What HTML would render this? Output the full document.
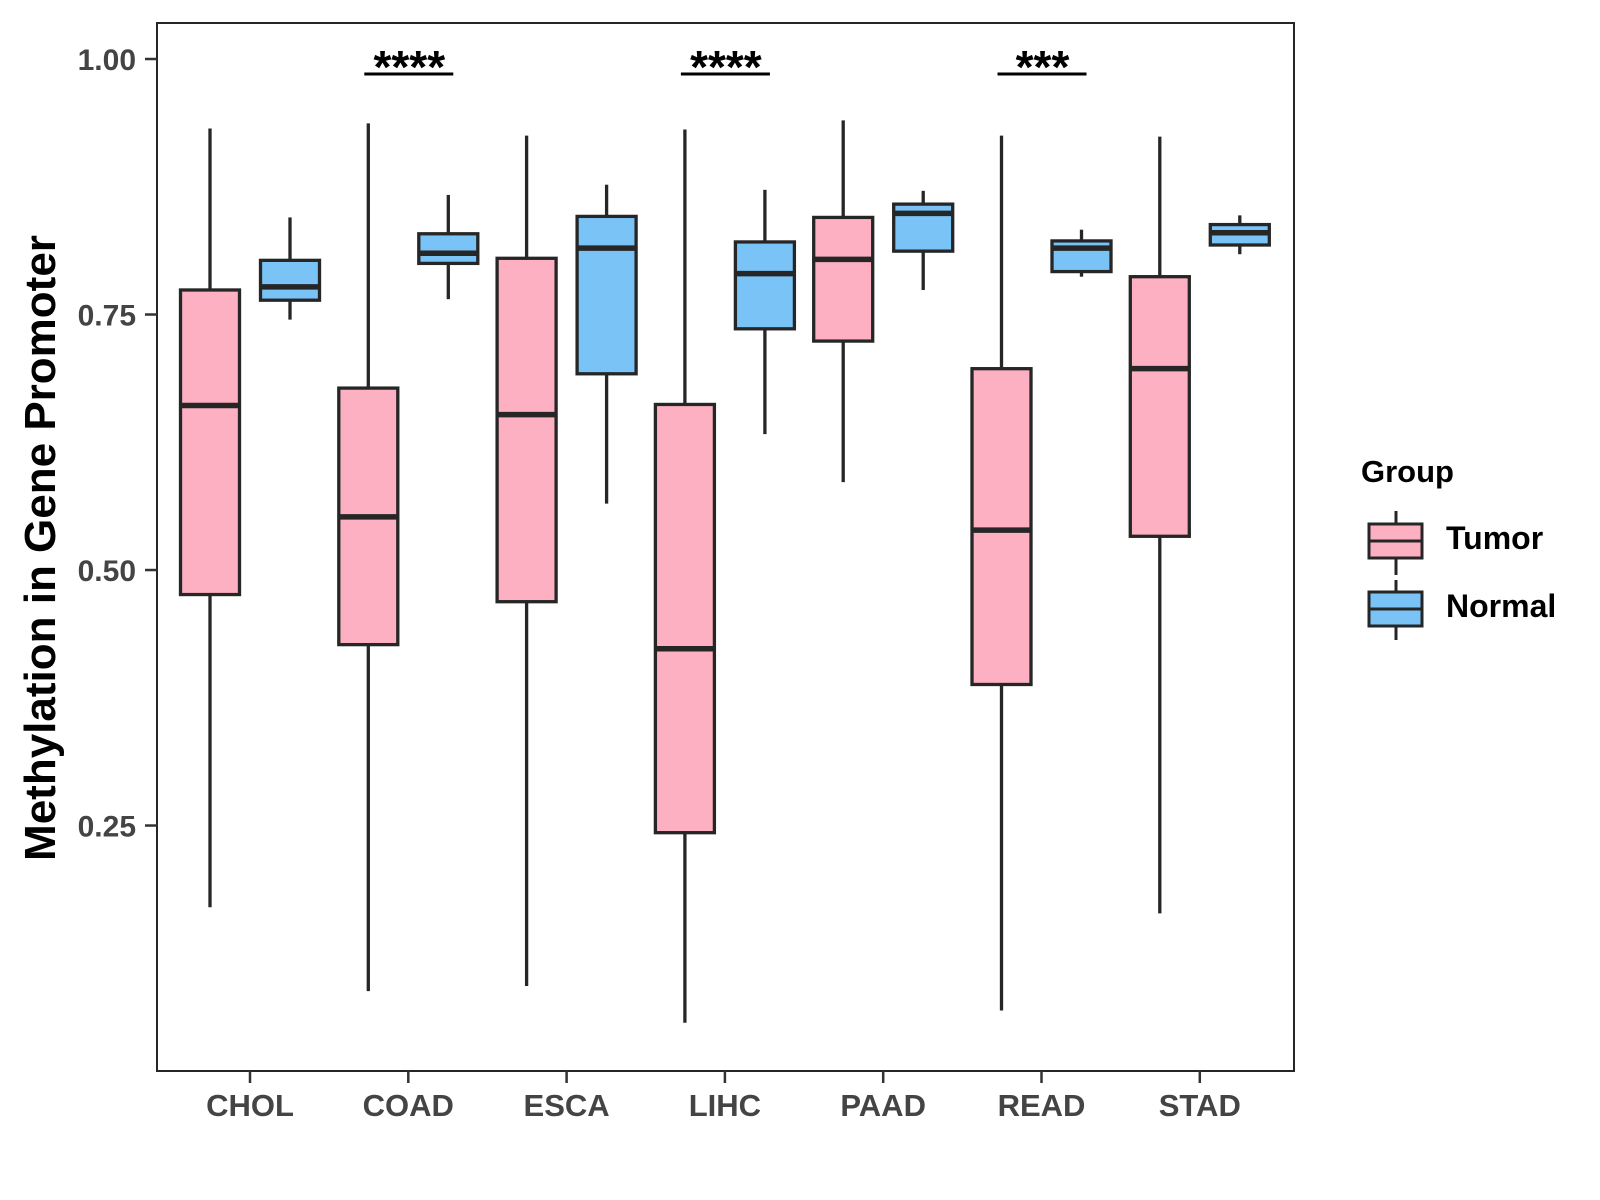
<!DOCTYPE html>
<html><head><meta charset="utf-8"><style>
html,body{margin:0;padding:0;background:#fff}
svg{display:block;font-family:"Liberation Sans",Arial,sans-serif;font-weight:bold}
</style></head><body>
<svg id="chart" width="1600" height="1200" viewBox="0 0 1600 1200"></svg>
<script>
const categories=["CHOL","COAD","ESCA","LIHC","PAAD","READ","STAD"];
const tumorLow=[0.170,0.088,0.093,0.057,0.586,0.069,0.164];
const tumorQ1=[0.476,0.427,0.469,0.243,0.724,0.388,0.533];
const tumorMed=[0.661,0.552,0.652,0.423,0.804,0.539,0.697];
const tumorQ3=[0.774,0.678,0.805,0.662,0.845,0.697,0.787];
const tumorHigh=[0.932,0.937,0.925,0.931,0.940,0.925,0.924];
const normalLow=[0.745,0.765,0.565,0.633,0.774,0.787,0.809];
const normalQ1=[0.764,0.800,0.692,0.736,0.812,0.792,0.818];
const normalMed=[0.777,0.810,0.815,0.790,0.849,0.815,0.830];
const normalQ3=[0.803,0.829,0.846,0.821,0.858,0.822,0.838];
const normalHigh=[0.845,0.867,0.877,0.872,0.871,0.833,0.847];
const yTicks=[0.25,0.50,0.75,1.00];
const yTickLabels=["0.25","0.50","0.75","1.00"];
const sigCategories=["COAD","LIHC","READ"];
const sigLabels=["****","****","***"];

const NS="http://www.w3.org/2000/svg";
const svg=document.getElementById("chart");
const L=157,R=1294,T=23,B=1071;
function yS(v){return 59+(1-v)*1002*1.02;}
function xS(i){return 250+i*158.3;}
function mk(tag,attrs,parent){const e=document.createElementNS(NS,tag);for(const k in attrs)e.setAttribute(k,attrs[k]);(parent||svg).appendChild(e);return e;}

const panel=mk("rect",{x:L,y:T,width:R-L,height:B-T,fill:"none",stroke:"#262626","stroke-width":2});



yTicks.forEach((v,i)=>{
  const g=mk("g",{});
  
  
  mk("line",{x1:L-12,x2:L,y1:yS(v),y2:yS(v),stroke:"#333","stroke-width":2.5},g);
  const t=mk("text",{x:L-21,y:yS(v)+11,"text-anchor":"end","font-size":30,fill:"#444"},g);
  t.textContent=yTickLabels[i];
});
categories.forEach((c,i)=>{
  const g=mk("g",{});
  
  
  mk("line",{x1:xS(i),x2:xS(i),y1:B,y2:B+12,stroke:"#333","stroke-width":2.5},g);
  const t=mk("text",{x:xS(i),y:B+45,"text-anchor":"middle","font-size":31,fill:"#444"},g);
  t.textContent=c;
});

function box(cx,lo,q1,md,q3,hi,fill,name){
  const g=mk("g",{});
  
  
  const w=59,st="#262626";
  mk("line",{x1:cx,x2:cx,y1:yS(hi),y2:yS(q3),stroke:st,"stroke-width":3.3},g);
  mk("line",{x1:cx,x2:cx,y1:yS(q1),y2:yS(lo),stroke:st,"stroke-width":3.3},g);
  mk("rect",{x:cx-w/2,y:yS(q3),width:w,height:yS(q1)-yS(q3),fill:fill,stroke:st,"stroke-width":3.3},g);
  mk("line",{x1:cx-w/2,x2:cx+w/2,y1:yS(md),y2:yS(md),stroke:st,"stroke-width":5.5},g);
}
categories.forEach((c,i)=>{
  box(xS(i)-40,tumorLow[i],tumorQ1[i],tumorMed[i],tumorQ3[i],tumorHigh[i],"#FDB0C1","tumor-box-"+c.toLowerCase());
  box(xS(i)+40,normalLow[i],normalQ1[i],normalMed[i],normalQ3[i],normalHigh[i],"#7AC3F7","normal-box-"+c.toLowerCase());
});
sigCategories.forEach((c,k)=>{
  const i=categories.indexOf(c);
  const g=mk("g",{});
  
  
  mk("line",{x1:xS(i)-44,x2:xS(i)+45,y1:74,y2:74,stroke:"#000","stroke-width":3},g);
  const t=mk("text",{x:xS(i)+1,y:83,"text-anchor":"middle","font-size":46,fill:"#000"},g);
  t.textContent=sigLabels[k];
});
</script>
<svg x="0" y="0" width="1600" height="1200" style="position:absolute;left:0;top:0;font-family:'Liberation Sans',Arial,sans-serif;font-weight:bold">
  <text transform="translate(55,548) rotate(-90)" text-anchor="middle" font-size="44" fill="#000">Methylation in Gene Promoter</text>
  <g>
    <text x="1361" y="482" font-size="31" fill="#000">Group</text>
    <g>
      <line x1="1396" x2="1396" y1="511" y2="575" stroke="#262626" stroke-width="3"/>
      <rect x="1369" y="524" width="53" height="34" fill="#FDB0C1" stroke="#262626" stroke-width="3"/>
      <line x1="1369" x2="1422" y1="541" y2="541" stroke="#262626" stroke-width="3"/>
      <text x="1446" y="549" font-size="32" fill="#000">Tumor</text>
    </g>
    <g>
      <line x1="1396" x2="1396" y1="580" y2="640" stroke="#262626" stroke-width="3"/>
      <rect x="1369" y="592" width="53" height="34" fill="#7AC3F7" stroke="#262626" stroke-width="3"/>
      <line x1="1369" x2="1422" y1="609" y2="609" stroke="#262626" stroke-width="3"/>
      <text x="1446" y="617" font-size="32" fill="#000">Normal</text>
    </g>
  </g>
</svg>
</body></html>
